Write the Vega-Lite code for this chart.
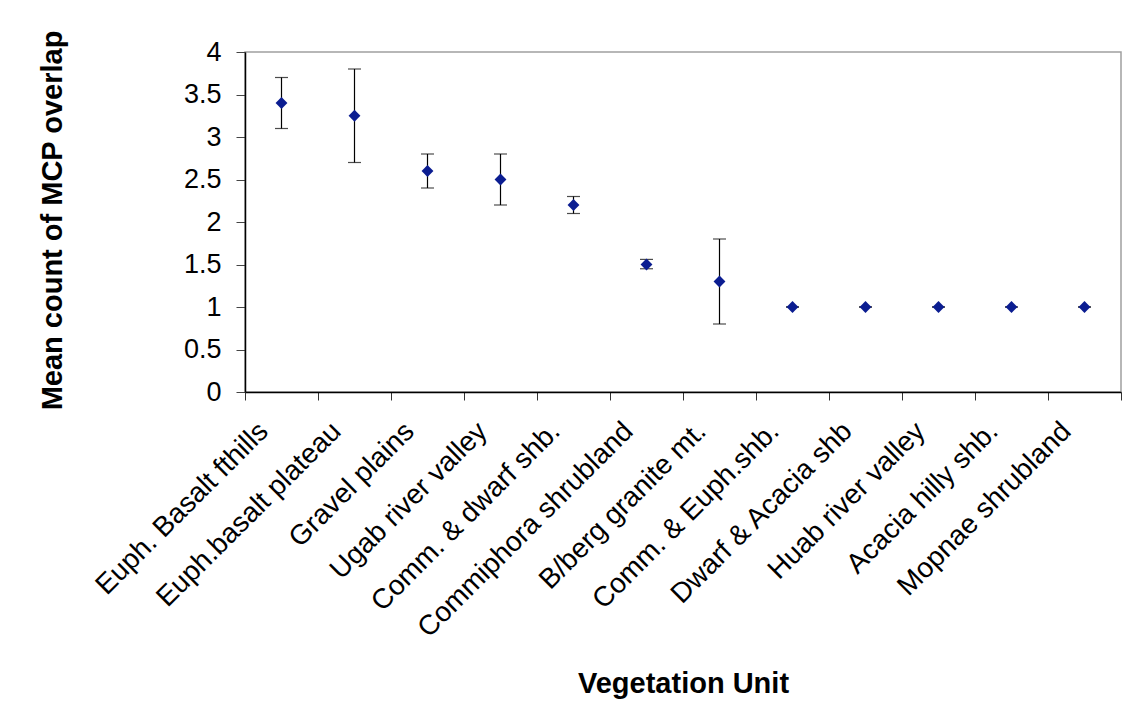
{
  "$schema": "https://vega.github.io/schema/vega-lite/v6.json",
  "width": 876,
  "height": 340,
  "autosize": {"type": "none"},
  "padding": {"left": 245, "top": 52, "right": 2, "bottom": 330},
  "background": "white",
  "config": {
    "font": "Liberation Sans",
    "view": {"stroke": "#a0a0a0", "strokeWidth": 1.5}
  },
  "data": {
    "values": [
      {"unit": "Euph. Basalt fthills", "mean": 3.4, "lo": 3.1, "hi": 3.7},
      {"unit": "Euph.basalt plateau", "mean": 3.25, "lo": 2.7, "hi": 3.8},
      {"unit": "Gravel plains", "mean": 2.6, "lo": 2.4, "hi": 2.8},
      {"unit": "Ugab river valley", "mean": 2.5, "lo": 2.2, "hi": 2.8},
      {"unit": "Comm. & dwarf shb.", "mean": 2.2, "lo": 2.1, "hi": 2.3},
      {"unit": "Commiphora shrubland", "mean": 1.5, "lo": 1.45, "hi": 1.56},
      {"unit": "B/berg granite mt.", "mean": 1.3, "lo": 0.8, "hi": 1.8},
      {"unit": "Comm. & Euph.shb.", "mean": 1.0, "lo": 1.0, "hi": 1.0},
      {"unit": "Dwarf & Acacia shb", "mean": 1.0, "lo": 1.0, "hi": 1.0},
      {"unit": "Huab river valley", "mean": 1.0, "lo": 1.0, "hi": 1.0},
      {"unit": "Acacia hilly shb.", "mean": 1.0, "lo": 1.0, "hi": 1.0},
      {"unit": "Mopnae shrubland", "mean": 1.0, "lo": 1.0, "hi": 1.0}
    ]
  },
  "encoding": {
    "x": {
      "field": "unit",
      "type": "nominal",
      "sort": null,
      "scale": {"paddingInner": 0, "paddingOuter": 0},
      "axis": {
        "title": "Vegetation Unit",
        "titleFontSize": 29,
        "titleFontWeight": "bold",
        "titleColor": "black",
        "titleBaseline": "alphabetic",
        "titleY": 300,
        "labelAngle": -45,
        "labelFontSize": 28,
        "labelColor": "black",
        "labelPadding": 17,
        "labelOffset": -28,
        "labelLimit": 400,
        "labelOverlap": false,
        "tickBand": "extent",
        "tickSize": 8,
        "tickColor": "#333",
        "domainColor": "black",
        "domainWidth": 1.5,
        "grid": false
      }
    }
  },
  "layer": [
    {
      "mark": {"type": "rule", "color": "black", "strokeWidth": 1.2},
      "encoding": {
        "y": {"field": "lo", "type": "quantitative"},
        "y2": {"field": "hi"}
      }
    },
    {
      "mark": {"type": "tick", "color": "black", "size": 13, "thickness": 1.2},
      "encoding": {
        "y": {"field": "lo", "type": "quantitative"}
      }
    },
    {
      "mark": {"type": "tick", "color": "black", "size": 13, "thickness": 1.2},
      "encoding": {
        "y": {"field": "hi", "type": "quantitative"}
      }
    },
    {
      "mark": {"type": "point", "shape": "diamond", "filled": true, "size": 140, "color": "#0b1d91", "opacity": 1},
      "encoding": {
        "y": {
          "field": "mean",
          "type": "quantitative",
          "scale": {"domain": [0, 4], "nice": false},
          "axis": {
            "title": "Mean count of MCP overlap",
            "titleFontSize": 29,
            "titleFontWeight": "bold",
            "titleColor": "black",
            "titleX": -178,
            "titleY": 168,
            "values": [0, 0.5, 1, 1.5, 2, 2.5, 3, 3.5, 4],
            "format": "~g",
            "labelFontSize": 27,
            "labelColor": "black",
            "labelPadding": 15,
            "tickSize": 9,
            "tickColor": "#444",
            "domainColor": "black",
            "domainWidth": 1.5,
            "grid": false
          }
        }
      }
    }
  ]
}
